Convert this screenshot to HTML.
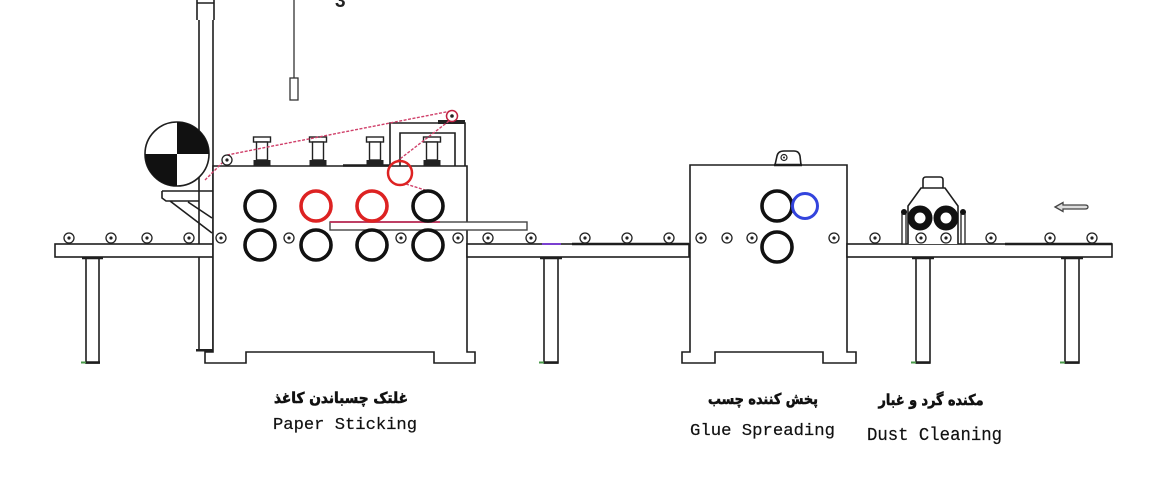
<!DOCTYPE html>
<html><head><meta charset="utf-8"><style>
html,body{margin:0;padding:0;background:#fff;}
svg{display:block;}
</style></head><body>
<svg width="1172" height="480" viewBox="0 0 1172 480" xmlns="http://www.w3.org/2000/svg">
<defs>
<g id="idl"><circle r="5" fill="#fff" stroke="#222" stroke-width="1.3"/><circle r="1.6" fill="#222"/></g>
<g id="spool">
<rect x="-8.5" y="137" width="17" height="5" fill="#fff" stroke="#222" stroke-width="1.4"/>
<rect x="-5.5" y="142" width="11" height="18" fill="#fff" stroke="#222" stroke-width="1.4"/>
<rect x="-8.5" y="160" width="17" height="6" fill="#222"/>
</g>
</defs>
<rect width="1172" height="480" fill="#fff"/>

<text x="335" y="7" font-family="Liberation Sans, sans-serif" font-weight="bold" font-size="19" fill="#222">3</text>
<line x1="294" y1="0" x2="294" y2="78" stroke="#333" stroke-width="1.3"/>
<rect x="290" y="78" width="8" height="22" fill="#fff" stroke="#333" stroke-width="1.3"/>

<g fill="none" stroke="#1e1e1e" stroke-width="1.6">
<path d="M197,0 V20 M214,0 V20 M197,3 H214 M199,20 V350 M213,20 V350" />
<rect x="196" y="349" width="22" height="2.5" fill="#222" stroke="none"/>

<rect x="86" y="257" width="13" height="106" fill="#fff"/>
<line x1="82" y1="258" x2="103" y2="258" stroke-width="2.5"/>
<line x1="85" y1="362.5" x2="100" y2="362.5" stroke-width="2.5"/>
<rect x="55" y="244" width="158" height="13" fill="#fff"/>

<path d="M162,191 H213 M162,191 V198 L166,201 H199 M170,201 L212,233 M188,202 L212,218" />

<path d="M213,166 H467 V352 H475 V363 H434 V352 H246 V363 H205 V352 H213 Z" fill="#fff"/>
<line x1="343" y1="165.5" x2="390" y2="165.5" stroke-width="2.5"/>

<path d="M390,166 V123 H465 V166 M400,166 V133 H455 V166" />
<rect x="438" y="120" width="27" height="4" fill="#222" stroke="none"/>

<rect x="544" y="257" width="14" height="106" fill="#fff"/>
<line x1="540" y1="258" x2="562" y2="258" stroke-width="2.5"/>
<line x1="544" y1="362.5" x2="558" y2="362.5" stroke-width="2.5"/>
<rect x="467" y="244" width="222" height="13" fill="#fff"/>
<line x1="572" y1="244" x2="689" y2="244" stroke-width="2.6"/>

<rect x="330" y="222" width="197" height="8" fill="#fff" stroke="#444" stroke-width="1.4"/>

<path d="M690,165 H847 V352 H856 V363 H823 V352 H715 V363 H682 V352 H690 Z" fill="#fff"/>
<path d="M775,165 L777,156 Q778,151 784,151 H794 Q799,151 800,156 L801,165" fill="#fff"/>
<line x1="774" y1="165" x2="802" y2="165" stroke-width="2.6"/>

<rect x="916" y="257" width="14" height="106" fill="#fff"/>
<line x1="912" y1="258" x2="934" y2="258" stroke-width="2.5"/>
<line x1="916" y1="362.5" x2="930" y2="362.5" stroke-width="2.5"/>
<rect x="1065" y="257" width="14" height="106" fill="#fff"/>
<line x1="1061" y1="258" x2="1083" y2="258" stroke-width="2.5"/>
<line x1="1065" y1="362.5" x2="1079" y2="362.5" stroke-width="2.5"/>
<rect x="847" y="244" width="265" height="13" fill="#fff"/>
<line x1="1005" y1="244" x2="1112" y2="244" stroke-width="2.6"/>

<path d="M923,188 V180 Q923,177 926,177 H940 Q943,177 943,180 V188" fill="#fff"/>
<path d="M908,244 V206 L921,188 H945 L958,206 V244" fill="#fff"/>
<rect x="902" y="212" width="4" height="32" fill="#fff" stroke-width="1.3"/>
<rect x="961" y="212" width="4" height="32" fill="#fff" stroke-width="1.3"/>
</g>

<line x1="542" y1="244" x2="561" y2="244" stroke="#7a3fd0" stroke-width="2"/>
<line x1="81" y1="362.5" x2="86" y2="362.5" stroke="#4a9a4a" stroke-width="2"/>
<line x1="539" y1="362.5" x2="544" y2="362.5" stroke="#4a9a4a" stroke-width="2"/>
<line x1="911" y1="362.5" x2="916" y2="362.5" stroke="#4a9a4a" stroke-width="2"/>
<line x1="1060" y1="362.5" x2="1065" y2="362.5" stroke="#4a9a4a" stroke-width="2"/>

<circle cx="177" cy="154" r="32" fill="#fff" stroke="#1e1e1e" stroke-width="1.6"/>
<path d="M177,154 L177,122 A32,32 0 0 1 209,154 Z" fill="#111"/>
<path d="M177,154 L145,154 A32,32 0 0 0 177,186 Z" fill="#111"/>

<use href="#spool" x="262"/>
<use href="#spool" x="318"/>
<use href="#spool" x="375"/>
<use href="#spool" x="432"/>

<g stroke="#d0406a" stroke-width="1.4" stroke-dasharray="3 1.5" fill="none">
<line x1="205" y1="180" x2="223" y2="162"/>
<line x1="227" y1="155" x2="451" y2="111"/>
<line x1="449" y1="121" x2="396" y2="162"/>
<line x1="406" y1="184" x2="428" y2="191"/>
</g>
<line x1="330" y1="222" x2="440" y2="222" stroke="#c0305a" stroke-width="1.8"/>

<use href="#idl" x="227" y="160"/>
<circle cx="452" cy="116" r="5.5" fill="#fff" stroke="#c02040" stroke-width="1.5"/>
<circle cx="452" cy="116" r="1.8" fill="#222"/>

<circle cx="400" cy="173" r="12" fill="none" stroke="#dd2222" stroke-width="2.5"/>

<g fill="none" stroke-width="3.6">
<circle cx="260" cy="206" r="15" stroke="#111"/>
<circle cx="316" cy="206" r="15" stroke="#dd2222"/>
<circle cx="372" cy="206" r="15" stroke="#dd2222"/>
<circle cx="428" cy="206" r="15" stroke="#111"/>
<circle cx="260" cy="245" r="15" stroke="#111"/>
<circle cx="316" cy="245" r="15" stroke="#111"/>
<circle cx="372" cy="245" r="15" stroke="#111"/>
<circle cx="428" cy="245" r="15" stroke="#111"/>
<circle cx="777" cy="206" r="15" stroke="#111"/>
<circle cx="805" cy="206" r="12.5" stroke="#3344dd" stroke-width="3"/>
<circle cx="777" cy="247" r="15" stroke="#111"/>
</g>

<circle cx="784" cy="157.5" r="3" fill="#fff" stroke="#222" stroke-width="1.2"/>
<circle cx="784" cy="157.5" r="1" fill="#222"/>

<circle cx="920" cy="218" r="9" fill="#fff" stroke="#111" stroke-width="7"/>
<circle cx="946" cy="218" r="9" fill="#fff" stroke="#111" stroke-width="7"/>
<circle cx="904" cy="212" r="3" fill="#111"/>
<circle cx="963" cy="212" r="3" fill="#111"/>

<use href="#idl" x="69" y="238"/>
<use href="#idl" x="111" y="238"/>
<use href="#idl" x="147" y="238"/>
<use href="#idl" x="189" y="238"/>
<use href="#idl" x="221" y="238"/>
<use href="#idl" x="289" y="238"/>
<use href="#idl" x="401" y="238"/>
<use href="#idl" x="458" y="238"/>
<use href="#idl" x="488" y="238"/>
<use href="#idl" x="531" y="238"/>
<use href="#idl" x="585" y="238"/>
<use href="#idl" x="627" y="238"/>
<use href="#idl" x="669" y="238"/>
<use href="#idl" x="701" y="238"/>
<use href="#idl" x="727" y="238"/>
<use href="#idl" x="752" y="238"/>
<use href="#idl" x="834" y="238"/>
<use href="#idl" x="875" y="238"/>
<use href="#idl" x="921" y="238"/>
<use href="#idl" x="946" y="238"/>
<use href="#idl" x="991" y="238"/>
<use href="#idl" x="1050" y="238"/>
<use href="#idl" x="1092" y="238"/>

<path d="M1055,207 L1063,202.5 V205 H1085 Q1088,205 1088,207 Q1088,209 1085,209 H1063 V211.5 Z" fill="#ddd" stroke="#444" stroke-width="1.3"/>

<g font-family="DejaVu Sans, sans-serif" font-weight="bold" font-size="15" fill="#111" stroke="#111" stroke-width="0.6" text-anchor="middle">
<text x="341" y="403" textLength="134" lengthAdjust="spacingAndGlyphs">غلتک چسباندن کاغذ</text>
<text x="763" y="404" textLength="110" lengthAdjust="spacingAndGlyphs">پخش کننده چسب</text>
<text x="931" y="405" textLength="105" lengthAdjust="spacingAndGlyphs">مکنده گرد و غبار</text>
</g>
<g font-family="Liberation Mono, monospace" fill="#111" stroke="#111" stroke-width="0.2">
<text x="273" y="429" font-size="17" textLength="144" lengthAdjust="spacingAndGlyphs">Paper Sticking</text>
<text x="690" y="435" font-size="17" textLength="145" lengthAdjust="spacingAndGlyphs">Glue Spreading</text>
<text x="867" y="440" font-size="18" textLength="135" lengthAdjust="spacingAndGlyphs">Dust Cleaning</text>
</g>
</svg>
</body></html>
